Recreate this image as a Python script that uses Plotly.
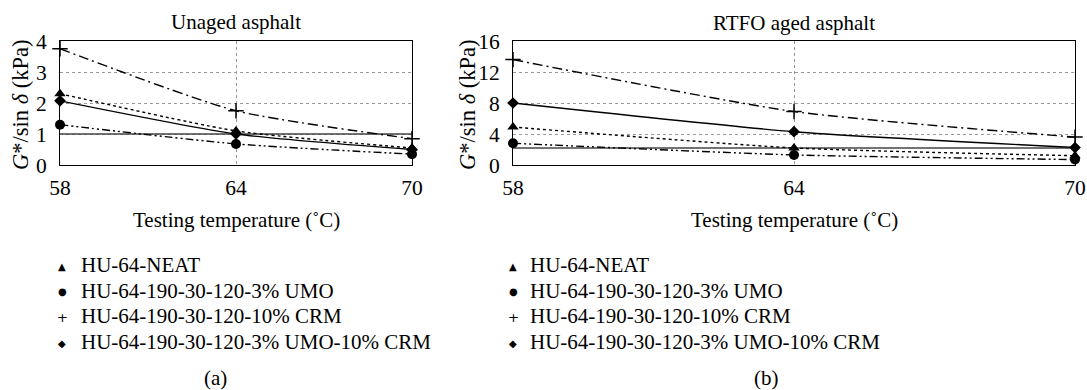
import plotly.graph_objects as go

temps = [58, 64, 70]
series_names = [
    "HU-64-NEAT",
    "HU-64-190-30-120-3% UMO",
    "HU-64-190-30-120-10% CRM",
    "HU-64-190-30-120-3% UMO-10% CRM",
]
legend_glyphs = ["▲", "●", "+", "◆"]
# Unaged asphalt
unaged_neat = [2.3, 1.1, 0.55]
unaged_umo = [1.3, 0.68, 0.35]
unaged_crm = [3.75, 1.75, 0.85]
unaged_umo_crm = [2.07, 1.0, 0.5]
unaged_limit = 1.0
# RTFO aged asphalt
rtfo_neat = [4.9, 2.2, 1.2]
rtfo_umo = [2.8, 1.3, 0.7]
rtfo_crm = [13.6, 6.9, 3.6]
rtfo_umo_crm = [8.0, 4.3, 2.25]
rtfo_limit = 2.2

symbols = ["triangle-up", "circle", "cross-thin", "diamond"]
dashes = ["dot", "8px,3px,2px,3px,2px,3px", "10px,4px,2px,4px", "solid"]
msizes = [10, 10, 11, 9]

FONT = "Liberation Serif"
FS = 21
W, H = 1087, 390

fig = go.Figure()

def add_panel(values, limit, xa, ya):
    # threshold line
    fig.add_trace(go.Scatter(x=[temps[0], temps[-1]], y=[limit, limit], mode="lines",
                             line=dict(color="#444", width=1.6), showlegend=False,
                             xaxis=xa, yaxis=ya, hoverinfo="skip"))
    for i, v in enumerate(values):
        fig.add_trace(go.Scatter(
            x=temps, y=v, mode="lines+markers",
            line=dict(color="black", width=1.4, dash=dashes[i], shape="spline", smoothing=0.6),
            marker=dict(symbol=symbols[i], size=msizes[i], color="black",
                        line=dict(color="black", width=1.5 if symbols[i] == "cross-thin" else 0)),
            cliponaxis=False, showlegend=False, xaxis=xa, yaxis=ya, name=series_names[i]))

add_panel([unaged_neat, unaged_umo, unaged_crm, unaged_umo_crm], unaged_limit, "x", "y")
add_panel([rtfo_neat, rtfo_umo, rtfo_crm, rtfo_umo_crm], rtfo_limit, "x2", "y2")

def px_x(p):
    return p / W

def px_y(p):
    return (H - p) / H

ydom = [px_y(165), px_y(41)]
axis_common = dict(showline=True, linecolor="black", linewidth=1, mirror=True, automargin=False,
                   showgrid=True, gridcolor="#999", griddash="dot", gridwidth=1,
                   zeroline=False, ticks="", tickfont=dict(family=FONT, size=21.5, color="black"))

fig.update_layout(
    width=W, height=H, margin=dict(l=0, r=0, t=0, b=0, autoexpand=False),
    paper_bgcolor="white", plot_bgcolor="white",
    font=dict(family=FONT, size=FS, color="black"),
    showlegend=False,
    xaxis=dict(domain=[px_x(60), px_x(412)], range=[58, 70], tickvals=temps, anchor="y",
               ticklabelstandoff=3, **axis_common),
    yaxis=dict(domain=ydom, range=[0, 4], tickvals=[0, 1, 2, 3, 4], anchor="x",
               ticklabelstandoff=8, **axis_common),
    xaxis2=dict(domain=[px_x(513), px_x(1075)], range=[58, 70], tickvals=temps, anchor="y2",
                ticklabelstandoff=3, **axis_common),
    yaxis2=dict(domain=ydom, range=[0, 16], tickvals=[0, 4, 8, 12, 16], anchor="x2",
                ticklabelstandoff=8, **axis_common),
)

ytitle = "<i>G</i>*/sin <i>δ</i> (kPa)"
ann = [
    dict(text="Unaged asphalt", x=px_x(236), y=px_y(22)),
    dict(text="RTFO aged asphalt", x=px_x(794), y=px_y(23)),
    dict(text="Testing temperature (˚C)", x=px_x(237), y=px_y(220)),
    dict(text="Testing temperature (˚C)", x=px_x(794), y=px_y(220)),
    dict(text=ytitle, x=px_x(20), y=px_y(105), textangle=-90, font=dict(family=FONT, size=22.5, color="black")),
    dict(text=ytitle, x=px_x(467), y=px_y(105), textangle=-90, font=dict(family=FONT, size=22.5, color="black")),
    dict(text="(a)", x=px_x(215), y=px_y(378)),
    dict(text="(b)", x=px_x(766), y=px_y(378)),
]
for a in ann:
    a.setdefault("font", dict(family=FONT, size=FS, color="black"))
    fig.add_annotation(xref="paper", yref="paper", showarrow=False, xanchor="center", yanchor="middle", **a)

# Legends (one under each panel)
row_y = [265, 290.5, 316, 342]
glyph_sizes = [10, 10, 13, 10]
for mx, tx in [(62, 79), (513, 528)]:
    for i, name in enumerate(series_names):
        fig.add_annotation(xref="paper", yref="paper", showarrow=False, xanchor="center", yanchor="middle",
                           x=px_x(mx), y=px_y(row_y[i] + 1), text=legend_glyphs[i],
                           font=dict(family="DejaVu Sans", size=glyph_sizes[i], color="black"))
        fig.add_annotation(xref="paper", yref="paper", showarrow=False, xanchor="left", yanchor="middle",
                           x=px_x(tx), y=px_y(row_y[i]), text=name,
                           font=dict(family=FONT, size=21, color="black"))

fig.write_html("out.html")
